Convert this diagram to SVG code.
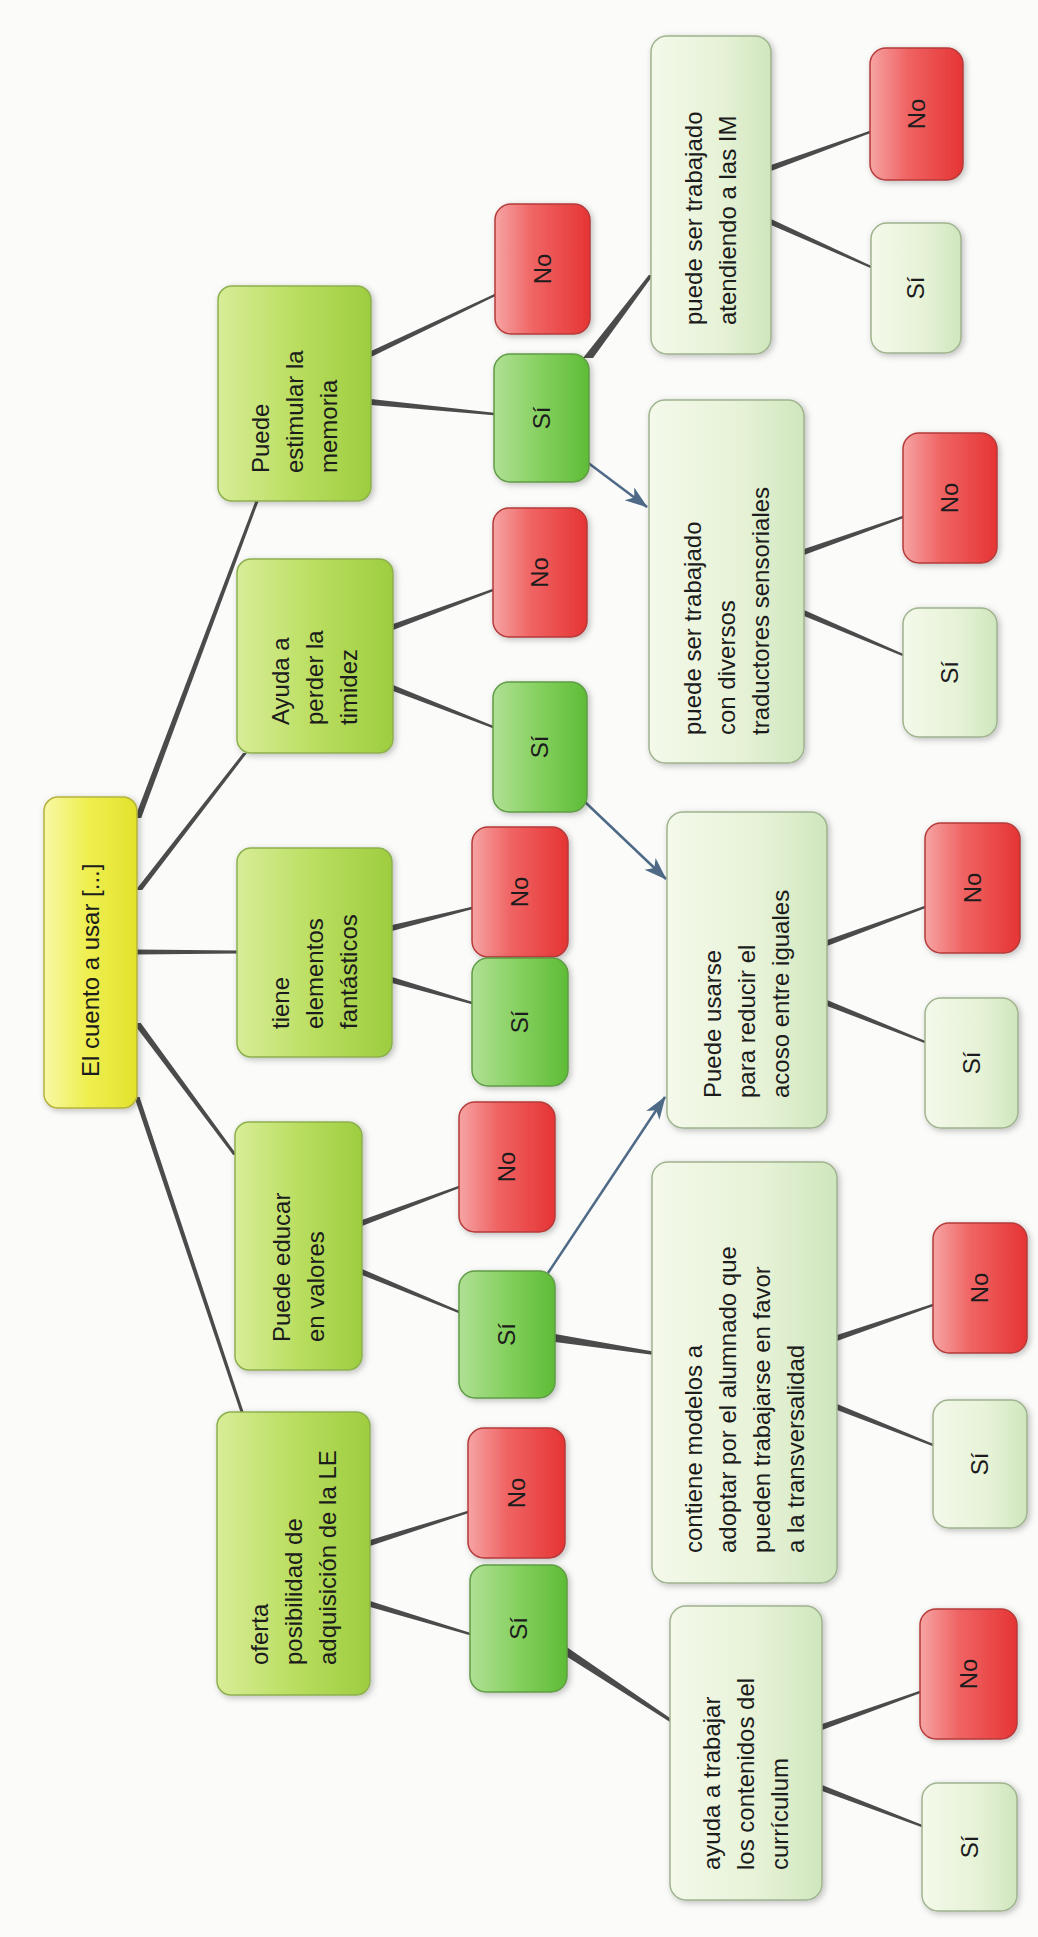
<svg xmlns="http://www.w3.org/2000/svg" width="1038" height="1937" viewBox="0 0 1038 1937">
<defs>
<style>
text{font-family:"Liberation Sans",Arial,sans-serif;font-size:24px;fill:#1c1c1c}
.c{text-anchor:middle}
rect{stroke-width:1.5;filter:url(#sh)}
.yel{fill:url(#gY);stroke:#b5b23c}
.lime{fill:url(#gL);stroke:#8db04f}
.grn{fill:url(#gG);stroke:#5f9c45}
.red{fill:url(#gR);stroke:#b53a3a}
.pale{fill:url(#gP);stroke:#9fb38f}
.conn polygon{fill:#4b4b4b}
.arr{stroke:#4e6a86;stroke-width:2.5;fill:none}
</style>
<linearGradient id="gY" x1="0" y1="0" x2="1" y2="0"><stop offset="0" stop-color="#f8f8a6"/><stop offset="0.45" stop-color="#efef52"/><stop offset="1" stop-color="#e2e22c"/></linearGradient>
<linearGradient id="gL" x1="0" y1="0" x2="1" y2="0"><stop offset="0" stop-color="#d8ed98"/><stop offset="0.5" stop-color="#bade60"/><stop offset="1" stop-color="#9dcd40"/></linearGradient>
<linearGradient id="gG" x1="0" y1="0" x2="1" y2="0"><stop offset="0" stop-color="#b0e094"/><stop offset="0.5" stop-color="#84d05e"/><stop offset="1" stop-color="#5ebc36"/></linearGradient>
<linearGradient id="gR" x1="0" y1="0" x2="1" y2="0"><stop offset="0" stop-color="#f6a4a4"/><stop offset="0.4" stop-color="#f06464"/><stop offset="1" stop-color="#e63434"/></linearGradient>
<linearGradient id="gP" x1="0" y1="0" x2="1" y2="0"><stop offset="0" stop-color="#f4f9ea"/><stop offset="0.6" stop-color="#e6f2d6"/><stop offset="1" stop-color="#cfe6bd"/></linearGradient>
<filter id="sh" x="-20%" y="-20%" width="140%" height="140%"><feDropShadow dx="2" dy="2" stdDeviation="3" flood-color="#000" flood-opacity="0.25"/></filter>
<marker id="ah" markerUnits="userSpaceOnUse" markerWidth="24" markerHeight="18" refX="22" refY="9" orient="auto"><path d="M0,1 L23,9 L0,17 L6,9 z" fill="#4e6a86"/></marker>
</defs>
<rect x="0" y="0" width="1038" height="1937" fill="#fbfbfa" style="filter:none;stroke:none"/>

<g id="connectors" class="conn">
<polygon points="134.8,818 255.4,501 258.6,501 141.2,818"/>
<polygon points="135.8,890 243.1,753 246.9,753 142.2,890"/>
<polygon points="137,949.5 237,950.5 237,953.5 137,954.5"/>
<polygon points="133.2,1023 233.1,1155 236.9,1155 140.8,1023"/>
<polygon points="134.4,1097 240.4,1412 243.6,1412 139.6,1097"/>
<polygon points="371,351 495,293.8 495,296.2 371,357"/>
<polygon points="371,399 494,412.8 494,415.2 371,405"/>
<polygon points="393,624 493,588.8 493,591.2 393,630"/>
<polygon points="393,685 493,725.8 493,728.2 393,691"/>
<polygon points="392,925 472,906.8 472,909.2 392,931"/>
<polygon points="392,977 472,1001.8 472,1004.2 392,983"/>
<polygon points="362,1220 459,1185.8 459,1188.2 362,1226"/>
<polygon points="362,1269 459,1310.8 459,1313.2 362,1275"/>
<polygon points="370,1540 468,1510.8 468,1513.2 370,1546"/>
<polygon points="370,1601 470,1632.8 470,1635.2 370,1607"/>
<polygon points="583,358 648.8,275 653.2,275 593,358"/>
<polygon points="555,1334 652,1351.2 652,1354.8 555,1342"/>
<polygon points="567,1647.2 670,1717.9 670,1722.1 567,1656.8"/>
<polygon points="771,165 870,130.8 870,133.2 771,171"/>
<polygon points="771,219 871,265.8 871,268.2 771,225"/>
<polygon points="804,549 903,515.8 903,518.2 804,555"/>
<polygon points="804,610 903,653.8 903,656.2 804,616"/>
<polygon points="827,940 925,905.8 925,908.2 827,946"/>
<polygon points="827,1000 925,1040.8 925,1043.2 827,1006"/>
<polygon points="837,1335 933,1303.8 933,1306.2 837,1341"/>
<polygon points="837,1404 933,1443.8 933,1446.2 837,1410"/>
<polygon points="822,1724 920,1690.8 920,1693.2 822,1730"/>
<polygon points="822,1785 922,1824.8 922,1827.2 822,1791"/>
<line class="arr" x1="587" y1="462" x2="647" y2="507" marker-end="url(#ah)"/>
<line class="arr" x1="585" y1="802" x2="666" y2="879" marker-end="url(#ah)"/>
<line class="arr" x1="548" y1="1273" x2="665" y2="1097" marker-end="url(#ah)"/>
</g>

<g id="root"><rect class="yel" x="44" y="797" width="93" height="311" rx="14"/><text transform="translate(90.5,1077) rotate(-90)" dy="8">El cuento a usar [...]</text></g>

<g id="n-memoria"><rect class="lime" x="218" y="286" width="153" height="215" rx="14"/><text transform="translate(294.5,473) rotate(-90)"><tspan x="0" dy="-26">Puede</tspan><tspan x="0" dy="34">estimular la</tspan><tspan x="0" dy="34">memoria</tspan></text></g>
<g id="n-timidez"><rect class="lime" x="237" y="559" width="156" height="194" rx="14"/><text transform="translate(315,725) rotate(-90)"><tspan x="0" dy="-26">Ayuda a</tspan><tspan x="0" dy="34">perder la</tspan><tspan x="0" dy="34">timidez</tspan></text></g>
<g id="n-fantasticos"><rect class="lime" x="237" y="848" width="155" height="209" rx="14"/><text transform="translate(314.5,1029) rotate(-90)"><tspan x="0" dy="-26">tiene</tspan><tspan x="0" dy="34">elementos</tspan><tspan x="0" dy="34">fantásticos</tspan></text></g>
<g id="n-valores"><rect class="lime" x="235" y="1122" width="127" height="248" rx="14"/><text transform="translate(298.5,1342) rotate(-90)"><tspan x="0" dy="-9">Puede educar</tspan><tspan x="0" dy="34">en valores</tspan></text></g>
<g id="n-oferta"><rect class="lime" x="217" y="1412" width="153" height="283" rx="14"/><text transform="translate(293.5,1665) rotate(-90)"><tspan x="0" dy="-26">oferta</tspan><tspan x="0" dy="34">posibilidad de</tspan><tspan x="0" dy="34">adquisición de la LE</tspan></text></g>

<g id="no-memoria"><rect class="red" x="495" y="204" width="95" height="130" rx="16"/><text class="c" transform="translate(542.5,269) rotate(-90)" dy="8">No</text></g>
<g id="si-memoria"><rect class="grn" x="494" y="354" width="95" height="128" rx="16"/><text class="c" transform="translate(541.5,418) rotate(-90)" dy="8">Sí</text></g>
<g id="no-timidez"><rect class="red" x="493" y="508" width="94" height="129" rx="16"/><text class="c" transform="translate(540,572.5) rotate(-90)" dy="8">No</text></g>
<g id="si-timidez"><rect class="grn" x="493" y="682" width="94" height="130" rx="16"/><text class="c" transform="translate(540,747) rotate(-90)" dy="8">Sí</text></g>
<g id="no-fantasticos"><rect class="red" x="472" y="827" width="96" height="130" rx="16"/><text class="c" transform="translate(520,892) rotate(-90)" dy="8">No</text></g>
<g id="si-fantasticos"><rect class="grn" x="472" y="958" width="96" height="128" rx="16"/><text class="c" transform="translate(520,1022) rotate(-90)" dy="8">Sí</text></g>
<g id="no-valores"><rect class="red" x="459" y="1102" width="96" height="130" rx="16"/><text class="c" transform="translate(507,1167) rotate(-90)" dy="8">No</text></g>
<g id="si-valores"><rect class="grn" x="459" y="1271" width="96" height="127" rx="16"/><text class="c" transform="translate(507,1334.5) rotate(-90)" dy="8">Sí</text></g>
<g id="no-oferta"><rect class="red" x="468" y="1428" width="97" height="130" rx="16"/><text class="c" transform="translate(516.5,1493) rotate(-90)" dy="8">No</text></g>
<g id="si-oferta"><rect class="grn" x="470" y="1565" width="97" height="127" rx="16"/><text class="c" transform="translate(518.5,1628.5) rotate(-90)" dy="8">Sí</text></g>

<g id="n-im"><rect class="pale" x="651" y="36" width="120" height="318" rx="16"/><text transform="translate(711,325) rotate(-90)"><tspan x="0" dy="-9">puede ser trabajado</tspan><tspan x="0" dy="34">atendiendo a las IM</tspan></text></g>
<g id="n-sensoriales"><rect class="pale" x="649" y="400" width="155" height="363" rx="16"/><text transform="translate(726.5,735) rotate(-90)"><tspan x="0" dy="-26">puede ser trabajado</tspan><tspan x="0" dy="34">con diversos</tspan><tspan x="0" dy="34">traductores sensoriales</tspan></text></g>
<g id="n-acoso"><rect class="pale" x="667" y="812" width="160" height="316" rx="16"/><text transform="translate(747,1098) rotate(-90)"><tspan x="0" dy="-26">Puede usarse</tspan><tspan x="0" dy="34">para reducir el</tspan><tspan x="0" dy="34">acoso entre iguales</tspan></text></g>
<g id="n-transversalidad"><rect class="pale" x="652" y="1162" width="185" height="421" rx="16"/><text transform="translate(744.5,1553) rotate(-90)"><tspan x="0" dy="-43">contiene modelos a</tspan><tspan x="0" dy="34">adoptar por el alumnado que</tspan><tspan x="0" dy="34">pueden trabajarse en favor</tspan><tspan x="0" dy="34">a la transversalidad</tspan></text></g>
<g id="n-curriculum"><rect class="pale" x="670" y="1606" width="152" height="294" rx="16"/><text transform="translate(746,1870) rotate(-90)"><tspan x="0" dy="-26">ayuda a trabajar</tspan><tspan x="0" dy="34">los contenidos del</tspan><tspan x="0" dy="34">currículum</tspan></text></g>

<g id="no-im"><rect class="red" x="870" y="48" width="93" height="132" rx="16"/><text class="c" transform="translate(916.5,114) rotate(-90)" dy="8">No</text></g>
<g id="si-im"><rect class="pale" x="871" y="223" width="90" height="130" rx="16"/><text class="c" transform="translate(916,288) rotate(-90)" dy="8">Sí</text></g>
<g id="no-sensoriales"><rect class="red" x="903" y="433" width="94" height="130" rx="16"/><text class="c" transform="translate(950,498) rotate(-90)" dy="8">No</text></g>
<g id="si-sensoriales"><rect class="pale" x="903" y="608" width="94" height="129" rx="16"/><text class="c" transform="translate(950,672.5) rotate(-90)" dy="8">Sí</text></g>
<g id="no-acoso"><rect class="red" x="925" y="823" width="95" height="130" rx="16"/><text class="c" transform="translate(972.5,888) rotate(-90)" dy="8">No</text></g>
<g id="si-acoso"><rect class="pale" x="925" y="998" width="93" height="130" rx="16"/><text class="c" transform="translate(971.5,1063) rotate(-90)" dy="8">Sí</text></g>
<g id="no-transversalidad"><rect class="red" x="933" y="1223" width="94" height="130" rx="16"/><text class="c" transform="translate(980,1288) rotate(-90)" dy="8">No</text></g>
<g id="si-transversalidad"><rect class="pale" x="933" y="1400" width="94" height="128" rx="16"/><text class="c" transform="translate(980,1464) rotate(-90)" dy="8">Sí</text></g>
<g id="no-curriculum"><rect class="red" x="920" y="1609" width="97" height="130" rx="16"/><text class="c" transform="translate(968.5,1674) rotate(-90)" dy="8">No</text></g>
<g id="si-curriculum"><rect class="pale" x="922" y="1783" width="95" height="128" rx="16"/><text class="c" transform="translate(969.5,1847) rotate(-90)" dy="8">Sí</text></g>
</svg>
